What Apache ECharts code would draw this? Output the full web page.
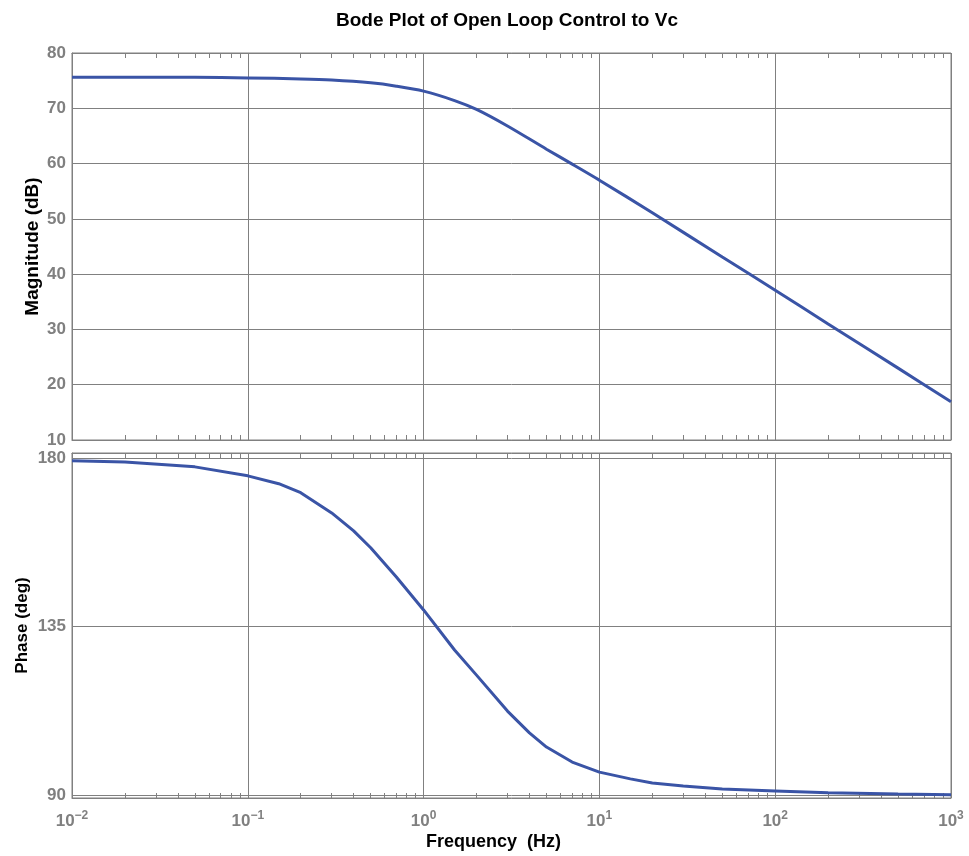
<!DOCTYPE html>
<html><head><meta charset="utf-8">
<script src="https://cdn.jsdelivr.net/npm/echarts@6/dist/echarts.min.js"></script>
<style>html,body{margin:0;padding:0;background:#fff}#c{width:969px;height:856px}</style>
</head><body><div id="c"></div>
<script>
// Frequencies (Hz)
const freqMag = [0.01,0.02,0.05,0.1,0.2,0.3,0.5,0.7,1,1.5,2,3,5,7,10,20,50,100,200,500,1000];
// Magnitude (dB)
const magDb   = [75.6,75.6,75.6,75.5,75.3,75.1,74.6,74.0,73.1,71.4,69.8,66.8,62.6,59.9,57.0,51.1,43.1,37.1,31.0,23.0,16.9];
// Phase
const freqPh  = [0.01,0.02,0.05,0.1,0.15,0.2,0.3,0.4,0.5,0.7,1,1.5,2,3,4,5,7,10,15,20,30,50,100,200,500,1000];
const phaseDeg= [179.2,178.9,177.6,175.2,173.1,170.7,165.3,160.5,156.0,148.2,139.4,128.7,122.0,112.4,106.6,102.8,98.8,96.1,94.3,93.2,92.4,91.6,91.1,90.6,90.3,90.1];
const magTicks = [10,20,30,40,50,60,70,80];
const phaseTicks = [90,135,180];
const decades = [0.01,0.1,1,10,100,1000];

const minorVals = [];
decades.forEach(d => { for (let k = 1; k <= 9; k++) { const v = +(d*k).toPrecision(3); if (v <= 1000) minorVals.push(v); } });

const gray = '#808080';
const lblFont = 'Liberation Sans, Arial, sans-serif';
const nameStyle = {fontSize: 18, fontWeight: 'bold', color: '#000', fontFamily: lblFont};
const xLabel = {
  show: true,
  formatter: v => { const e = Math.round(Math.log10(v)); return '{b|10}{s|' + (e < 0 ? '\u2212' + (-e) : e) + '}'; },
  rich: {
    b: {fontSize: 17, fontWeight: 'bold', color: gray, fontFamily: lblFont},
    s: {fontSize: 12, fontWeight: 'bold', color: gray, fontFamily: lblFont, verticalAlign: 'top', padding: [0,0,10,0]}
  },
  margin: 12
};
function xAx(grid, pos, labels, name) {
  return {
    type: 'log', logBase: 10, min: 0.01, max: 1000, gridIndex: grid, position: pos,
    axisLine: {show: true, lineStyle: {color: gray, width: 1}},
    axisTick: {show: true, inside: true, length: 5, customValues: minorVals, lineStyle: {color: gray}},
    splitLine: {show: false},
    minorTick: {show: false},
    axisLabel: labels ? xLabel : {show: false},
    name: name || '', nameLocation: 'middle', nameGap: 35,
    nameTextStyle: Object.assign({padding: [0, 36, 0, 0]}, nameStyle)
  };
}
function xGridAx(grid) {
  return {
    type: 'log', logBase: 10, min: 0.01, max: 1000, gridIndex: grid, position: 'bottom',
    axisLine: {show: false}, axisTick: {show: false}, axisLabel: {show: false},
    splitLine: {show: true, lineStyle: {color: gray, width: 1}}
  };
}
const yLabelStyle = {fontSize: 17, fontWeight: 'bold', color: gray, fontFamily: lblFont, margin: 6};

const option = {
  animation: false,
  backgroundColor: '#fff',
  title: {text: 'Bode Plot of Open Loop Control to Vc', left: 331, top: 6,
    textStyle: {fontSize: 19, fontWeight: 'bold', color: '#000', fontFamily: lblFont}},
  grid: [
    {left: 72, top: 53, width: 879, height: 387, show: true, borderColor: gray, borderWidth: 1, backgroundColor: 'transparent'},
    {left: 72, top: 453, width: 879, height: 345, show: true, borderColor: gray, borderWidth: 1, backgroundColor: 'transparent'}
  ],
  xAxis: [
    xAx(0, 'bottom', false), xAx(0, 'top', false), xGridAx(0),
    xAx(1, 'bottom', true, 'Frequency  (Hz)'), xAx(1, 'top', false), xGridAx(1)
  ],
  yAxis: [
    {type: 'value', gridIndex: 0, min: 10, max: 80, interval: 10,
     axisLine: {show: true, lineStyle: {color: gray}}, axisTick: {show: false},
     splitLine: {show: true, lineStyle: {color: gray, width: 1}},
     axisLabel: yLabelStyle,
     name: 'Magnitude (dB)', nameLocation: 'middle', nameGap: 30, nameMoveOverlap: false,
     nameTextStyle: Object.assign({}, nameStyle, {fontSize: 19})},
    {type: 'value', gridIndex: 1, min: 89.2, max: 181.3,
     axisLine: {show: true, lineStyle: {color: gray}}, axisTick: {show: false},
     splitLine: {show: false},
     axisLabel: Object.assign({customValues: phaseTicks}, yLabelStyle),
     name: 'Phase (deg)', nameLocation: 'middle', nameGap: 41, nameMoveOverlap: false,
     nameTextStyle: Object.assign({}, nameStyle, {fontSize: 17})}
  ],
  series: [
    {type: 'line', xAxisIndex: 0, yAxisIndex: 0, data: freqMag.map((f, i) => [f, magDb[i]]),
     showSymbol: false, smooth: 0.3, lineStyle: {color: '#3a54a6', width: 3}, z: 5},
    {type: 'line', xAxisIndex: 3, yAxisIndex: 1, data: freqPh.map((f, i) => [f, phaseDeg[i]]),
     showSymbol: false, lineStyle: {color: '#3a54a6', width: 3}, z: 5,
     markLine: {silent: true, symbol: 'none', label: {show: false}, animation: false,
       lineStyle: {color: gray, width: 1, type: 'solid'},
       data: phaseTicks.map(v => ({yAxis: v}))}}
  ]
};
const chart = echarts.init(document.getElementById('c'), null, {renderer: 'canvas'});
chart.setOption(option);
</script></body></html>
